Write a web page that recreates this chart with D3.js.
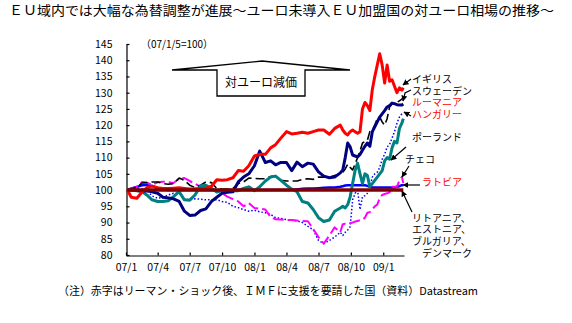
<!DOCTYPE html>
<html><head><meta charset="utf-8">
<script src="https://cdn.jsdelivr.net/npm/d3@7"></script>
<style>body{margin:0;background:#fff;} svg{display:block;} text{font-family:"Noto Sans CJK JP","Noto Sans",sans-serif;}</style>
</head><body>
<svg id="c" width="572" height="323"></svg>
<script>
// ---------- DATA ----------
const dates = ["2007-01-05","2007-01-16","2007-02-01","2007-02-16","2007-03-01","2007-03-16","2007-04-01","2007-04-16","2007-05-01","2007-05-16","2007-06-01","2007-06-16","2007-07-01","2007-07-16","2007-08-01","2007-08-16","2007-09-01","2007-09-16","2007-10-01","2007-10-16","2007-11-01","2007-11-16","2007-12-01","2007-12-16","2008-01-01","2008-01-16","2008-02-01","2008-02-16","2008-03-01","2008-03-16","2008-04-01","2008-04-16","2008-05-01","2008-05-16","2008-06-01","2008-06-16","2008-07-01","2008-07-16","2008-08-01","2008-08-16","2008-09-01","2008-09-08","2008-09-15","2008-09-22","2008-09-29","2008-10-06","2008-10-13","2008-10-20","2008-10-27","2008-11-03","2008-11-10","2008-11-17","2008-11-24","2008-12-01","2008-12-08","2008-12-15","2008-12-22","2008-12-29","2009-01-05","2009-01-12","2009-01-19","2009-01-26","2009-02-02","2009-02-09","2009-02-16","2009-02-23","2009-02-27"];

const uk = [100,97.8,97.5,99.5,100.7,101.2,100.7,100.5,100.5,100.6,
  100.7,100.5,100.3,100.4,100.5,100.6,101.2,103.2,103,103.2,
  103.8,106,105.8,107.5,110.5,111,111,113,114,116,
  118,117.3,117.5,117.8,117.5,118,118.5,118.5,117.2,119,
  120,118.5,117.5,117,118,118.5,118,117.5,118,125,
  127,126,124.5,131,135,138.5,142,138.5,133,138.5,
  133.5,134,132,130,131.5,130.8,131.5];

const sweden = [100,100,100,99.7,99.8,99.5,99,97.8,97.6,97.3,
  96.5,93.5,92.2,92.3,93.7,94.2,96.5,97.8,99,99.3,
  99.5,102.5,104,105,107.5,112,108.5,109,107.8,108.5,
  108.5,106,108.6,107.2,108.3,108,105.6,104.3,103.8,104,
  105.3,106.2,110,114.5,113.3,110.8,110.5,110.2,111,112.3,
  113.5,114.5,113.5,118,119.5,121,122.5,123.5,124.5,125.6,
  126,126.8,126.6,126.3,126.2,126.2,126.5];

const hungary = [100,100,99.8,99.5,98.5,97,96.5,96.5,96.7,98,
  99.5,97,96.9,98.5,101.3,101.5,100.5,99.4,100,100,
  99.8,99.8,100.5,101,99.8,101,102.8,104,104.3,103,
  101.5,100.3,99.5,96.5,96,94,91.5,90.3,90.8,93.5,
  94.5,95,94.5,95.5,97.9,102,106,108.3,105,102,
  105,104.5,101,102,103,104,105,106,109,110,
  109.5,113,115,114.5,119,120.6,122];

const poland = [100,100.3,100.5,100.4,100,98.2,97.5,97.7,98.5,99,
  99,97.3,97,97.3,97.2,97,97,97,96.5,96.2,
  95,94.6,94,93.5,93.8,93.3,93,92.5,91.5,91.3,
  90.9,90.7,90.5,90,88.8,87.8,84.5,83.5,84.5,85.5,
  87,86,87,87.7,88.7,97,99,100,94,98,
  98.3,99,101,104,105,105.5,107,109.5,111,113.3,
  114,116,118,120.6,122.5,123.5,124];

const czech = [100,100.5,101,102.5,102.3,101.6,102.4,102.6,102.4,102.2,
  103.5,103.7,102.8,102,101,100.5,100.2,100,99,98,
  97.2,96.5,95,96,94.5,94.3,94,91.7,91,90.9,
  90.8,90.8,90.6,90.5,90.4,88,85.5,83.5,86,88.5,
  87,89.5,89.6,89.5,89.8,90,90.3,90.5,90.7,90.8,
  91.5,93,93.2,94,95,95.5,97.5,98.5,98.8,99,
  99.3,101,101,101,103,104,102.2];

const romania = [100,100.3,101,102.2,102.3,102.5,102.5,102,101.8,102,
  103.7,103,101.5,100.8,101.5,102.5,102.3,100.5,100.3,100.3,
  100.5,102,102.5,103.7,103.6,103.5,103.5,104.2,104.3,103,
  102.8,102.8,102.8,103.3,103.5,103.3,104,104,104,104.5,
  105,105.5,106.5,108,107,106.2,108,110,112,114.5,
  115,115.4,118,118.5,120,122,122.5,121,120,122,
  125.6,126.5,126.8,127,127.5,128,128.7];

const latvia = [100,100.5,101,101.5,101.6,101.3,100.5,100.2,100,100,
  100,100,100,100,100,100,100,100,100,100,
  100,100,100,100,100,100,100,100,100,100,
  100,100,100.2,100.4,100.5,100.5,100.6,100.7,100.8,100.8,
  101,101.2,101.4,101.5,101.5,101.5,101.5,101.5,101.5,101.5,
  101.5,101.3,101,100.8,100.8,100.8,100.8,100.8,100.8,100.8,
  100.8,100.8,100.8,101,101.2,101.5,101.5];

const pegGroup = [100,100,100,100,100,100,100,100,100,100,
  100,100,100,100,100,100,100,100,100,100,
  100,100,100,100,100,100,100,100,100,100,
  100,100,100,100,100,100,100,100,100,100,
  100,100,100,100,100,100,100,100,100,100,
  100,100,100,100,100,100,100,100,100,100,
  100,100,100,100,100,100,100];

const yTicks = [80,85,90,95,100,105,110,115,120,125,130,135,140,145];
const xTickDates = ["2007-01-01","2007-04-01","2007-07-01","2007-10-01","2008-01-01","2008-04-01","2008-07-01","2008-10-01","2009-01-01"];
const xTickLabels = ["07/1","07/4","07/7","07/10","08/1","08/4","08/7","08/10","09/1"];

const title = "ＥＵ域内では大幅な為替調整が進展～ユーロ未導入ＥＵ加盟国の対ユーロ相場の推移～";
const note = "（注）赤字はリーマン・ショック後、ＩＭＦに支援を要請した国（資料）Datastream";
const baseLabel = "（07/1/5=100）";
const boxLabel = "対ユーロ減価";
const seriesLabels = ["イギリス","スウェーデン","ルーマニア","ハンガリー","ポーランド","チェコ","ラトビア"];
const pegLabels = ["リトアニア、","エストニア、","ブルガリア、","デンマーク"];

// ---------- CHART ----------
const svg = d3.select("#c");
const parse = d3.utcParse("%Y-%m-%d");
const D = dates.map(parse);
const x = d3.scaleUtc().domain([parse("2007-01-01"), parse("2009-03-01")]).range([126, 404]);
const y = d3.scaleLinear().domain([80, 145]).range([255, 44]);

svg.append("defs").append("marker")
  .attr("id","ah").attr("viewBox","0 0 10 10").attr("refX",9).attr("refY",5)
  .attr("markerWidth",5).attr("markerHeight",5).attr("orient","auto")
  .append("path").attr("d","M0,0 L10,5 L0,10 Z").attr("fill","#000");

// title
svg.append("text").attr("x", 9).attr("y", 15).attr("font-size", 13)
  .attr("textLength", 545).attr("lengthAdjust","spacingAndGlyphs").text(title);

// axes
const yAxis = svg.append("g").attr("transform","translate(126.5,0)")
  .call(d3.axisLeft(y).tickValues(yTicks).tickSize(-3).tickSizeOuter(0).tickPadding(14));
const xAxis = svg.append("g").attr("transform","translate(0,255.5)")
  .call(d3.axisBottom(x).tickValues(xTickDates.map(parse)).tickFormat((d,i)=>xTickLabels[i])
    .tickSize(-3).tickSizeOuter(0).tickPadding(8));
[yAxis, xAxis].forEach(g => {
  g.selectAll("text").attr("font-size", 10.5).attr("fill","#000")
    .attr("font-family",'"Noto Sans CJK JP","Noto Sans",sans-serif');
  g.selectAll("line,path").attr("stroke","#000").attr("stroke-width",1.2);
});
xAxis.selectAll("text").attr("dy","0.71em");

// base label
svg.append("text").attr("x", 141).attr("y", 48).attr("font-size", 10.5)
  .attr("textLength", 72).attr("lengthAdjust","spacingAndGlyphs").text(baseLabel);

// arrow shape with box
svg.append("path").attr("d","M172,70 L262,61 L350,70 L305,70 L305,96 L217,96 L217,70 Z")
  .attr("fill","#fff").attr("stroke","#000").attr("stroke-width",1.3);
svg.append("text").attr("x", 261).attr("y", 83).attr("dy","0.35em").attr("font-size", 12)
  .attr("text-anchor","middle").text(boxLabel);

// lines
const line = d3.line().x((d,i)=>x(D[i])).y(d=>y(d));
const series = [
  {v: latvia, color:"#0000ff", w:2.5},
  {v: poland, color:"#0000ff", w:1.5, dash:"1.5,2"},
  {v: czech, color:"#ff00ff", w:2, dash:"11,4"},
  {v: romania, color:"#000", w:1.6, dash:"9,4"},
  {v: hungary, color:"#008080", w:3},
  {v: sweden, color:"#000080", w:3},
  {v: uk, color:"#ff0000", w:3},
  {v: pegGroup, color:"#800000", w:3.5}
];
series.forEach(s => {
  svg.append("path").attr("d", line(s.v)).attr("fill","none")
    .attr("stroke", s.color).attr("stroke-width", s.w)
    .attr("stroke-dasharray", s.dash || null)
    .attr("stroke-linejoin","round");
});

// series labels
const labelPos = [[412,79.5,"#000"],[412,91,"#000"],[412,102.5,"#f00"],[412,114,"#f00"],[412,137,"#000"],[405,159,"#000"],[422,182.5,"#f00"]];
seriesLabels.forEach((t,i)=>{
  svg.append("text").attr("x",labelPos[i][0]).attr("y",labelPos[i][1]).attr("dy","0.35em")
    .attr("font-size",10).attr("fill",labelPos[i][2]).text(t);
});
const pegPos = [[412,218],[412,229.8],[412,241.6],[422,253.4]];
pegLabels.forEach((t,i)=>{
  svg.append("text").attr("x",pegPos[i][0]).attr("y",pegPos[i][1]).attr("dy","0.35em")
    .attr("font-size",10).text(t);
});

// arrows
const arrows = [
  "M411,79 L403,85",
  "M411,90 L405,93 L403,101",
  "M411,116 L404,112",
  "M406,147 L391,160",
  "M409,166 L402,177",
  "M420,185 L403,185",
  "M412,212 L402,191"
];
arrows.forEach(d => svg.append("path").attr("d",d).attr("fill","none")
  .attr("stroke","#000").attr("stroke-width",1.2).attr("marker-end","url(#ah)"));

// note
svg.append("text").attr("x", 58).attr("y", 295).attr("font-size", 11)
  .attr("textLength", 420).attr("lengthAdjust","spacingAndGlyphs").text(note);
</script>
</body></html>
